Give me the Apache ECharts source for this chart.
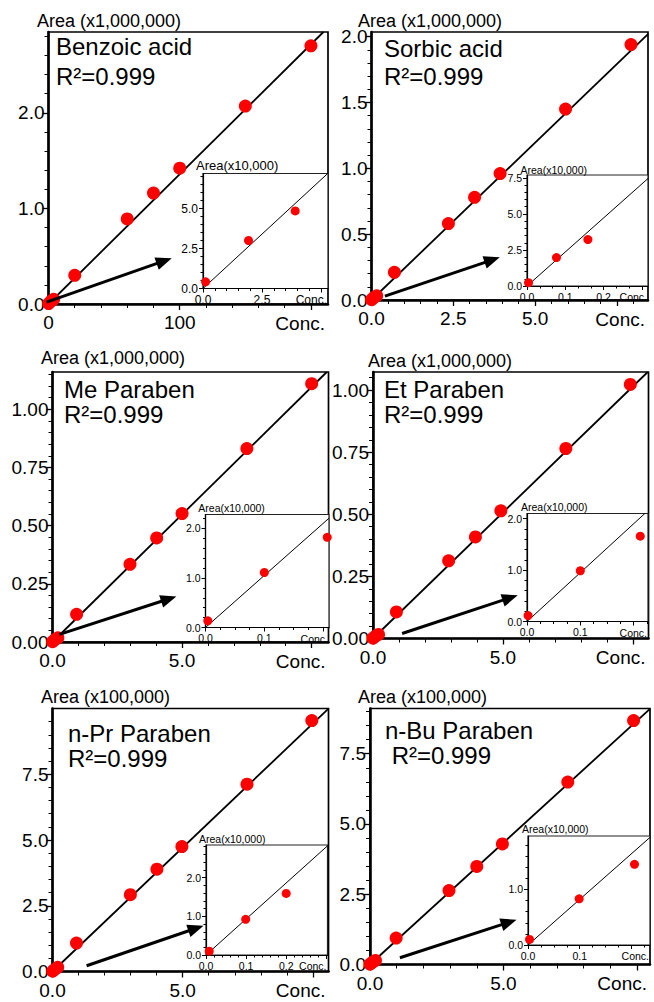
<!DOCTYPE html>
<html><head><meta charset="utf-8">
<script src="https://cdn.jsdelivr.net/npm/echarts@6/dist/echarts.min.js"></script>
<style>html,body{margin:0;padding:0;background:#fff}#c{width:654px;height:1002px}</style>
</head><body><div id="c"></div>
<script>
// ===================== DATA =====================
// Main plots: concentration vs peak area; insets: low-concentration points (Area x10,000)
const benzoicConc = [0.11, 1.93, 3.91, 20, 60, 80, 100, 150, 200];
const benzoicArea = [0.0042, 0.030, 0.0485, 0.30, 0.89, 1.16, 1.42, 2.07, 2.70];      // x1,000,000
const benzoicInsetConc = [0.11, 1.93, 3.91];
const benzoicInsetArea = [0.42, 3.0, 4.85];                                         // x10,000
const benzoicSlope = 0.01358, benzoicInsetSlope = 1.36;

const sorbicConc = [0.004, 0.077, 0.159, 0.7, 2.35, 3.15, 3.93, 5.93, 7.93];
const sorbicArea = [0.0023, 0.0197, 0.0322, 0.21, 0.58, 0.78, 0.96, 1.45, 1.94];   // x1,000,000
const sorbicInsetConc = [0.004, 0.077, 0.159];
const sorbicInsetArea = [0.23, 1.97, 3.22];
const sorbicSlope = 0.239, sorbicInsetSlope = 23.6;

const meConc = [0.004, 0.1, 0.207, 0.93, 2.99, 4.02, 5.0, 7.5, 10.0];
const meArea = [0.0013, 0.0111, 0.0182, 0.119, 0.334, 0.447, 0.552, 0.831, 1.11];  // x1,000,000
const meInsetConc = [0.004, 0.1, 0.207];
const meInsetArea = [0.134, 1.11, 1.82];
const meSlope = 0.1096, meInsetSlope = 10.5;

const etConc = [0.002, 0.1, 0.2125, 0.9, 2.91, 3.94, 4.92, 7.42, 9.9];
const etArea = [0.0012, 0.0099, 0.0166, 0.107, 0.313, 0.409, 0.514, 0.765, 1.023]; // x1,000,000
const etInsetConc = [0.002, 0.1, 0.2125];
const etInsetArea = [0.116, 0.987, 1.66];
const etSlope = 0.1015, etInsetSlope = 9.5;

const prConc = [0.008, 0.099, 0.2, 0.92, 2.99, 4.01, 4.97, 7.47, 9.96];
const prArea = [0.010, 0.092, 0.159, 1.08, 2.92, 3.89, 4.75, 7.12, 9.54];          // x100,000
const prInsetConc = [0.008, 0.099, 0.2];
const prInsetArea = [0.10, 0.92, 1.59];
const prSlope = 0.943, prInsetSlope = 9.3;

const buConc = [0.003, 0.099, 0.206, 0.98, 2.96, 4.0, 4.96, 7.41, 9.875];
const buArea = [0.010, 0.083, 0.145, 0.94, 2.63, 3.49, 4.29, 6.49, 8.68];          // x100,000
const buInsetConc = [0.003, 0.099, 0.206];
const buInsetArea = [0.10, 0.83, 1.45];
const buSlope = 0.867, buInsetSlope = 8.2;

// tick values / labelled values
const benzoicXTicks = [0, 100, 200], benzoicXLabels = [0, 100], benzoicYTicks = [0, 1, 2];
const sorbicXTicks = [0, 2.5, 5, 7.5], sorbicXLabels = [0, 2.5, 5], sorbicYTicks = [0, 0.5, 1, 1.5, 2];
const parXTicks = [0, 5, 10], parXLabels = [0, 5];
const meYTicks = [0, 0.25, 0.5, 0.75, 1.0], etYTicks = [0, 0.25, 0.5, 0.75, 1.0];
const prYTicks = [0, 2.5, 5, 7.5], buYTicks = [0, 2.5, 5, 7.5];
const benzoicIXTicks = [0, 2.5, 5], benzoicIXLabels = [0, 2.5], benzoicIYTicks = [0, 2.5, 5];
const sorbicIXTicks = [0, 0.1, 0.2, 0.3], sorbicIXLabels = [0, 0.1, 0.2], sorbicIYTicks = [0, 2.5, 5, 7.5];
const meIXTicks = [0, 0.1, 0.2], meIXLabels = [0, 0.1], meIYTicks = [0, 1, 2];
const etIXTicks = [0, 0.1, 0.2], etIXLabels = [0, 0.1], etIYTicks = [0, 1, 2];
const prIXTicks = [0, 0.1, 0.2, 0.3], prIXLabels = [0, 0.1, 0.2], prIYTicks = [0, 1, 2];
const buIXTicks = [0, 0.1, 0.2], buIXLabels = [0, 0.1], buIYTicks = [0, 1];

const compoundNames = ['Benzoic acid', 'Sorbic acid', 'Me Paraben', 'Et Paraben', 'n-Pr Paraben', 'n-Bu Paraben'];
const r2Labels = ['R²=0.999', 'R²=0.999', 'R²=0.999', 'R²=0.999', 'R²=0.999', ' R²=0.999'];
const unitLabels = ['Area (x1,000,000)', 'Area (x1,000,000)', 'Area (x1,000,000)', 'Area (x1,000,000)', 'Area (x100,000)', 'Area (x100,000)'];
const insetUnit = 'Area(x10,000)';
const concLabel = 'Conc.';

// ===================== LAYOUT =====================
const FONT = '"Liberation Sans", Arial, Helvetica, sans-serif';
const panels = [
  { main: { rect: [48.5, 32, 279.5, 272], xMax: 213, yMax: 2.845, xInt: 100, xMinor: 5, yInt: 1, yMinor: 5, xDec: 0, yDec: 1,
            conc: benzoicConc, area: benzoicArea, slope: benzoicSlope, xTicks: benzoicXTicks, xLabels: benzoicXLabels, yTicks: benzoicYTicks,
            arrow: [[-1.5, 0.02], [93.9, 0.478]] },
    inset: { rect: [203, 173.5, 125, 115], xMax: 5.3, yMax: 7.19, xInt: 2.5, xMinor: 5, yInt: 2.5, yMinor: 5,
            conc: benzoicInsetConc, area: benzoicInsetArea, slope: benzoicInsetSlope, xTicks: benzoicIXTicks, xLabels: benzoicIXLabels, yTicks: benzoicIYTicks },
    text: { unit: [37, 21], name: [56, 46], lh: 30, iunit: [196, 165.5, 13], ifont: 12 } },
  { main: { rect: [371.5, 32, 276.5, 268], xMax: 8.45, yMax: 2.035, xInt: 2.5, xMinor: 5, yInt: 0.5, yMinor: 5, xDec: 1, yDec: 1,
            conc: sorbicConc, area: sorbicArea, slope: sorbicSlope, xTicks: sorbicXTicks, xLabels: sorbicXLabels, yTicks: sorbicYTicks,
            arrow: [[0.41, 0.03], [3.92, 0.324]] },
    inset: { rect: [527, 175, 121, 111], xMax: 0.316, yMax: 7.7, xInt: 0.1, xMinor: 3, yInt: 2.5, yMinor: 5,
            conc: sorbicInsetConc, area: sorbicInsetArea, slope: sorbicInsetSlope, xTicks: sorbicIXTicks, xLabels: sorbicIXLabels, yTicks: sorbicIYTicks },
    text: { unit: [358, 20.7], name: [384, 48.3], lh: 27.7, iunit: [520.5, 170, 10.5], ifont: 10.5 } },
  { main: { rect: [52.5, 372, 276, 270], xMax: 10.65, yMax: 1.16, xInt: 5, xMinor: 5, yInt: 0.25, yMinor: 5, xDec: 1, yDec: 2,
            conc: meConc, area: meArea, slope: meSlope, xTicks: parXTicks, xLabels: parXLabels, yTicks: meYTicks,
            arrow: [[0.27, 0.033], [4.78, 0.196]] },
    inset: { rect: [205.5, 514.5, 123.5, 113], xMax: 0.21, yMax: 2.28, xInt: 0.1, xMinor: 4, yInt: 1, yMinor: 5,
            conc: meInsetConc, area: meInsetArea, slope: meInsetSlope, xTicks: meIXTicks, xLabels: meIXLabels, yTicks: meIYTicks },
    text: { unit: [41, 358.3], name: [64, 389], lh: 25.4, iunit: [198.3, 508, 10.5], ifont: 10.5 } },
  { main: { rect: [373, 372, 275.5, 266.5], xMax: 10.6, yMax: 1.073, xInt: 5, xMinor: 5, yInt: 0.25, yMinor: 5, xDec: 1, yDec: 2,
            conc: etConc, area: etArea, slope: etSlope, xTicks: parXTicks, xLabels: parXLabels, yTicks: etYTicks,
            arrow: [[1.12, 0.02], [5.57, 0.174]] },
    inset: { rect: [527, 513.5, 121, 108], xMax: 0.227, yMax: 2.10, xInt: 0.1, xMinor: 4, yInt: 1, yMinor: 5,
            conc: etInsetConc, area: etInsetArea, slope: etInsetSlope, xTicks: etIXTicks, xLabels: etIXLabels, yTicks: etIYTicks },
    text: { unit: [368, 360.7], name: [384, 389.5], lh: 25.4, iunit: [521, 507, 10.5], ifont: 10.5 } },
  { main: { rect: [52.5, 708.5, 276, 263], xMax: 10.6, yMax: 10.0, xInt: 5, xMinor: 5, yInt: 2.5, yMinor: 5, xDec: 1, yDec: 1,
            conc: prConc, area: prArea, slope: prSlope, xTicks: parXTicks, xLabels: parXLabels, yTicks: prYTicks,
            arrow: [[1.31, 0.22], [5.8, 1.74]] },
    inset: { rect: [206, 845, 121.5, 110], xMax: 0.303, yMax: 2.84, xInt: 0.1, xMinor: 5, yInt: 1, yMinor: 5,
            conc: prInsetConc, area: prInsetArea, slope: prInsetSlope, xTicks: prIXTicks, xLabels: prIXLabels, yTicks: prIYTicks },
    text: { unit: [41, 696.7], name: [68, 733.3], lh: 25.4, iunit: [199, 839, 10.5], ifont: 10.5 } },
  { main: { rect: [370, 708.5, 280, 256], xMax: 10.49, yMax: 9.11, xInt: 5, xMinor: 5, yInt: 2.5, yMinor: 5, xDec: 1, yDec: 1,
            conc: buConc, area: buArea, slope: buSlope, xTicks: parXTicks, xLabels: parXLabels, yTicks: buYTicks,
            arrow: [[1.12, 0.24], [5.49, 1.59]] },
    inset: { rect: [528, 836, 122, 109], xMax: 0.236, yMax: 1.96, xInt: 0.1, xMinor: 4, yInt: 1, yMinor: 5,
            conc: buInsetConc, area: buInsetArea, slope: buInsetSlope, xTicks: buIXTicks, xLabels: buIXLabels, yTicks: buIYTicks },
    text: { unit: [358, 697.3], name: [385, 730], lh: 25.4, iunit: [522, 829, 10.5], ifont: 10.5 } }
];

const grids = [], xAxes = [], yAxes = [], series = [], graphics = [], arrows = [];

function txt(str, x, y, size, align) {
  graphics.push({ type: 'text', x: x, y: y, silent: true, z: 100,
    style: { text: str, fill: '#000', fontSize: size, fontFamily: FONT,
             align: align || 'left', textAlign: align || 'left', verticalAlign: 'middle', textVerticalAlign: 'middle' } });
}

function addPlot(c, isInset, ifont) {
  const gi = grids.length;
  const [l, t, w, h] = c.rect;
  grids.push({ left: l, top: t, width: w, height: h, show: true, containLabel: false, outerBoundsMode: 'none',
    borderColor: isInset ? '#222' : '#000', borderWidth: isInset ? 1.2 : 1.7,
    backgroundColor: isInset ? '#fff' : 'transparent', z: isInset ? 5 : 0 });
  const fs = isInset ? ifont : 19;
  const dec = isInset ? 1 : null;
  const common = {
    gridIndex: gi, type: 'value', min: 0, z: isInset ? 6 : 1,
    splitLine: { show: false }, minorSplitLine: { show: false },
    axisLine: { show: true, onZero: false, lineStyle: { color: '#000', width: isInset ? 1.2 : 2.6 } },
    minorTick: { show: true, length: isInset ? 2.5 : 4, lineStyle: { color: '#000', width: 1 } }
  };
  xAxes.push(Object.assign({}, common, {
    max: c.xMax, interval: c.xInt,
    axisTick: { show: true, inside: false, length: isInset ? 4 : 6, customValues: c.xTicks, lineStyle: { color: '#000', width: isInset ? 1 : 1.3 } },
    minorTick: Object.assign({}, common.minorTick, { splitNumber: c.xMinor }),
    axisLabel: { show: true, customValues: c.xLabels, margin: isInset ? 5 : 9, fontSize: fs, fontFamily: FONT, color: '#000',
      formatter: v => Number(v).toFixed(dec != null ? dec : c.xDec) }
  }));
  yAxes.push(Object.assign({}, common, {
    max: c.yMax, interval: c.yInt,
    axisTick: { show: true, inside: false, length: isInset ? 4 : 6, customValues: c.yTicks, lineStyle: { color: '#000', width: isInset ? 1 : 1.3 } },
    minorTick: Object.assign({}, common.minorTick, { splitNumber: c.yMinor }),
    axisLabel: { show: true, customValues: c.yTicks, margin: isInset ? 5 : 4, fontSize: fs, fontFamily: FONT, color: '#000',
      formatter: v => Number(v).toFixed(dec != null ? dec : c.yDec) }
  }));
  // regression line, clipped at the frame
  const xEnd = Math.min(c.xMax, c.yMax / c.slope);
  series.push({
    type: 'line', xAxisIndex: gi, yAxisIndex: gi, silent: true, animation: false, clip: false,
    showSymbol: false, symbol: 'none', z: isInset ? 7 : 2,
    lineStyle: { color: '#000', width: isInset ? 1 : 1.8 },
    data: [[0, 0], [xEnd, c.slope * xEnd]]
  });
  series.push({
    type: 'scatter', xAxisIndex: gi, yAxisIndex: gi, silent: true, animation: false, clip: false,
    symbol: 'circle', symbolSize: isInset ? 9 : 13, z: isInset ? 8 : 3,
    itemStyle: { color: '#ff0000', opacity: 1 },
    data: c.conc.map((x, i) => [x, c.area[i]])
  });
  if (c.arrow) arrows.push({ gi: gi, from: c.arrow[0], to: c.arrow[1] });
  // "Conc." in place of the last x tick label
  txt(concLabel, l + w - (isInset ? 1 : 3), t + h + (isInset ? 11 : 19), isInset ? ifont : 19, 'right');
}

panels.forEach((p, k) => {
  addPlot(p.main, false);
  addPlot(p.inset, true, p.text.ifont);
  txt(unitLabels[k], p.text.unit[0], p.text.unit[1], 18);
  txt(compoundNames[k], p.text.name[0], p.text.name[1], 24);
  txt(r2Labels[k], p.text.name[0], p.text.name[1] + p.text.lh, 24);
  txt(insetUnit, p.text.iunit[0], p.text.iunit[1], p.text.iunit[2]);
});

const chart = echarts.init(document.getElementById('c'), null, { renderer: 'svg', width: 654, height: 1002 });
chart.setOption({
  animation: false,
  backgroundColor: '#fff',
  grid: grids, xAxis: xAxes, yAxis: yAxes, series: series, graphic: graphics
});

// pointer arrows (main plot -> inset), placed through each main grid's scales
const HEAD_L = 16, HEAD_W = 13;
arrows.forEach(a => {
  const p0 = chart.convertToPixel({ gridIndex: a.gi }, a.from);
  const p1 = chart.convertToPixel({ gridIndex: a.gi }, a.to);
  const dx = p1[0] - p0[0], dy = p1[1] - p0[1];
  const len = Math.sqrt(dx * dx + dy * dy);
  const ux = dx / len, uy = dy / len, nx = -uy, ny = ux;
  const bx = p1[0] - ux * HEAD_L, by = p1[1] - uy * HEAD_L;
  graphics.push({ type: 'line', silent: true, z: 50,
    shape: { x1: p0[0], y1: p0[1], x2: bx + ux * 2, y2: by + uy * 2 },
    style: { stroke: '#000', lineWidth: 3 } });
  graphics.push({ type: 'polygon', silent: true, z: 50,
    shape: { points: [[p1[0], p1[1]], [bx + nx * HEAD_W / 2, by + ny * HEAD_W / 2], [bx - nx * HEAD_W / 2, by - ny * HEAD_W / 2]] },
    style: { fill: '#000' } });
});
chart.setOption({ graphic: graphics });
</script>
</body></html>
